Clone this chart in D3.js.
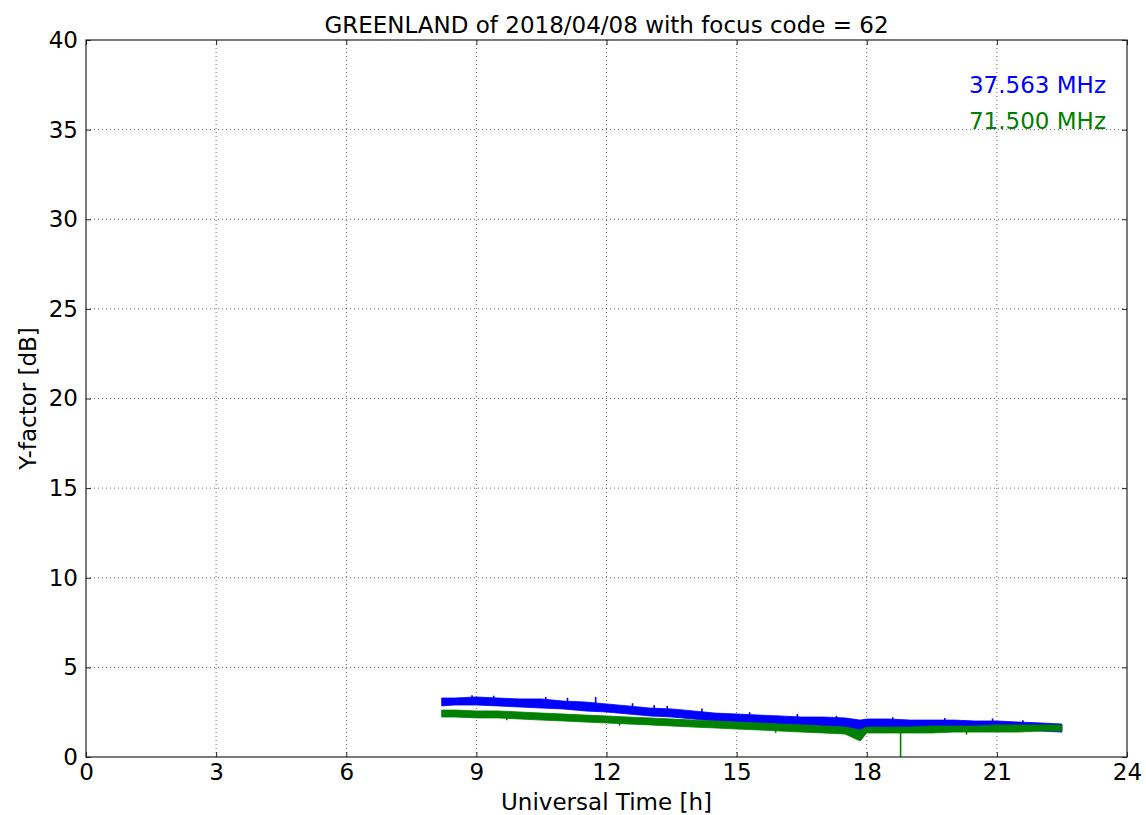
<!DOCTYPE html>
<html><head><meta charset="utf-8">
<script src="https://cdn.jsdelivr.net/npm/d3@7"></script>
<style>
body{margin:0;background:#fff;}
text{font-family:"DejaVu Sans",sans-serif;}
</style></head>
<body><svg id="c" width="1146" height="815"></svg>
<script>
// ---- data ----
const xTicks = [0,3,6,9,12,15,18,21,24];
const yTicks = [0,5,10,15,20,25,30,35,40];
const legendLabels = ["37.563 MHz","71.500 MHz"];
const seriesColors = ["#0000ff","#008000"];

const blueT    = [8.2,8.5,9.0,9.5,10.0,10.5,11.0,11.5,12.0,12.5,13.0,13.5,14.0,14.5,15.0,15.5,16.0,16.5,17.0,17.5,17.85,18.0,18.5,19.0,19.5,20.0,20.5,21.0,21.5,22.0,22.5];
const blueHigh = [3.29,3.29,3.35,3.29,3.24,3.24,3.12,3.07,2.96,2.85,2.73,2.68,2.57,2.45,2.40,2.34,2.29,2.23,2.23,2.18,2.06,2.12,2.12,2.06,2.06,2.06,2.01,2.01,1.95,1.90,1.84];
const blueLow  = [2.85,2.90,2.90,2.85,2.79,2.73,2.68,2.57,2.51,2.40,2.29,2.23,2.12,2.01,1.95,1.90,1.84,1.79,1.73,1.67,1.51,1.67,1.67,1.67,1.62,1.62,1.62,1.62,1.51,1.45,1.39];
const blueSpikeT = [8.9,9.4,10.6,11.1,11.75,12.6,13.1,13.4,14.2,15.3,16.4,17.3,18.6,19.8,20.9,21.6];
const blueSpikeV = [3.45,3.42,3.35,3.3,3.35,3.0,2.9,2.85,2.7,2.5,2.4,2.3,2.22,2.18,2.15,2.05];

const greenT    = [8.2,8.5,9.0,9.5,10.0,10.5,11.0,11.5,12.0,12.5,13.0,13.5,14.0,14.5,15.0,15.5,16.0,16.5,17.0,17.5,17.85,18.0,18.5,19.0,19.5,20.0,20.5,21.0,21.5,22.0,22.5];
const greenHigh = [2.62,2.62,2.57,2.57,2.51,2.45,2.40,2.34,2.29,2.23,2.18,2.12,2.06,2.01,1.95,1.90,1.84,1.79,1.73,1.67,1.51,1.67,1.67,1.67,1.73,1.73,1.73,1.79,1.79,1.79,1.79];
const greenLow  = [2.23,2.23,2.18,2.18,2.12,2.06,2.01,1.95,1.90,1.84,1.79,1.73,1.67,1.62,1.56,1.51,1.45,1.39,1.34,1.28,0.89,1.34,1.34,1.34,1.34,1.39,1.39,1.39,1.39,1.45,1.45];
const greenSpikeT = [9.7,12.3,15.9,18.78,20.3];
const greenSpikeV = [2.05,1.75,1.35,0,1.25];

// ---- layout ----
const svg = d3.select("#c");
const L=86, R=1127, T=40, B=757;
const x = d3.scaleLinear().domain([0,24]).range([L,R]);
const y = d3.scaleLinear().domain([0,40]).range([B,T]);
const FS = 23;

// grid
const g = svg.append("g");
g.selectAll(".gx").data(xTicks.slice(1,-1)).enter().append("line")
  .attr("x1",d=>x(d)).attr("x2",d=>x(d)).attr("y1",T).attr("y2",B)
  .attr("stroke","#000").attr("stroke-width",0.6).attr("stroke-dasharray","1,3");
g.selectAll(".gy").data(yTicks.slice(1,-1)).enter().append("line")
  .attr("y1",d=>y(d)).attr("y2",d=>y(d)).attr("x1",L).attr("x2",R)
  .attr("stroke","#000").attr("stroke-width",0.6).attr("stroke-dasharray","1,3");

// series
function drawSeries(ts, hi, lo, st, sv, col){
  const rows = ts.map((t,i)=>({t, hi:hi[i], lo:lo[i]}));
  const area = d3.area().x(d=>x(d.t)).y0(d=>y(d.lo)).y1(d=>y(d.hi));
  svg.append("path").datum(rows).attr("d",area).attr("fill",col)
    .attr("stroke",col).attr("stroke-width",0.8);
  st.forEach((t,i)=>{
    let k=0; for(let j=0;j<ts.length;j++){ if(Math.abs(ts[j]-t)<Math.abs(ts[k]-t)) k=j; }
    const base = (hi[k]+lo[k])/2;
    svg.append("line").attr("x1",x(t)).attr("x2",x(t))
      .attr("y1",y(base)).attr("y2",y(sv[i])).attr("stroke",col).attr("stroke-width",1.6);
  });
}
drawSeries(blueT, blueHigh, blueLow, blueSpikeT, blueSpikeV, seriesColors[0]);
drawSeries(greenT, greenHigh, greenLow, greenSpikeT, greenSpikeV, seriesColors[1]);

// frame
svg.append("rect").attr("x",L).attr("y",T).attr("width",R-L).attr("height",B-T)
  .attr("fill","none").attr("stroke","#222").attr("stroke-width",1.2);

// axes (inward ticks on all sides)
const ax = svg.append("g").attr("transform",`translate(0,${B})`)
  .call(d3.axisBottom(x).tickValues(xTicks).tickSize(-5).tickPadding(7).tickFormat(d3.format("d")));
const axT = svg.append("g").attr("transform",`translate(0,${T})`)
  .call(d3.axisTop(x).tickValues(xTicks).tickSize(-5).tickFormat(""));
const ay = svg.append("g").attr("transform",`translate(${L},0)`)
  .call(d3.axisLeft(y).tickValues(yTicks).tickSize(-5).tickPadding(8).tickFormat(d3.format("d")));
const ayR = svg.append("g").attr("transform",`translate(${R},0)`)
  .call(d3.axisRight(y).tickValues(yTicks).tickSize(-5).tickFormat(""));
[ax,axT,ay,ayR].forEach(a=>{
  a.select(".domain").remove();
  a.selectAll(".tick line").attr("stroke","#222").attr("stroke-width",1);
  a.selectAll("text").attr("font-size",FS).attr("fill","#000").attr("font-family","DejaVu Sans");
});
ax.selectAll("text").attr("dy","0.71em");

// labels
svg.append("text").attr("x",(L+R)/2).attr("y",33).attr("text-anchor","middle")
  .attr("font-size",FS).text("GREENLAND of 2018/04/08 with focus code = 62");
svg.append("text").attr("x",(L+R)/2).attr("y",810).attr("text-anchor","middle")
  .attr("font-size",FS).text("Universal Time [h]");
svg.append("text").attr("transform",`translate(36,${(T+B)/2}) rotate(-90)`).attr("text-anchor","middle")
  .attr("font-size",FS).text("Y-factor [dB]");

// legend texts
legendLabels.forEach((s,i)=>{
  svg.append("text").attr("x",1106).attr("y",93+i*36).attr("text-anchor","end")
    .attr("font-size",FS).attr("fill",seriesColors[i]).text(s);
});
</script></body></html>
